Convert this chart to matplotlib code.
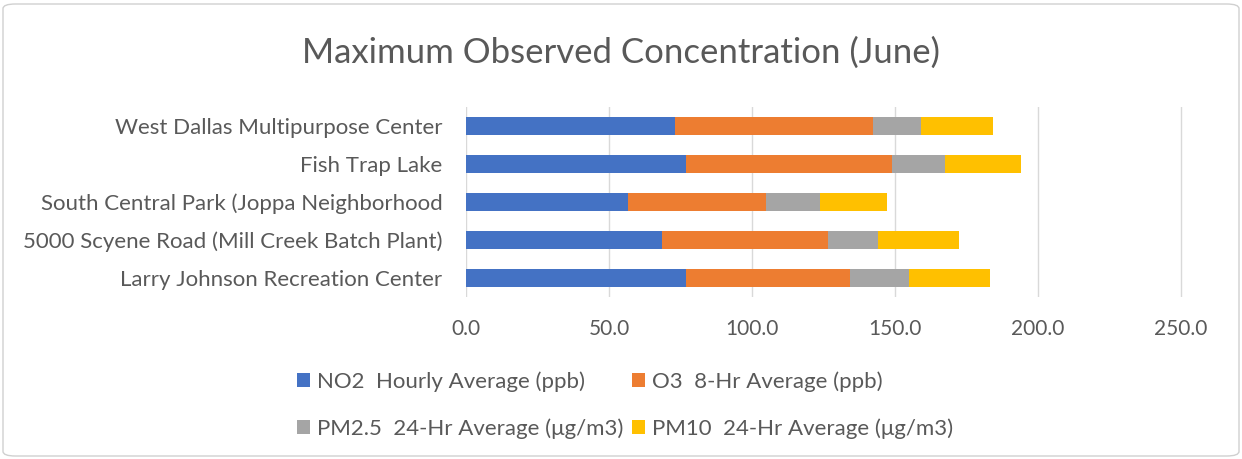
import matplotlib.pyplot as plt
import matplotlib.patches as mpatches
import numpy as np

sites = ['Larry Johnson Recreation Center',
         '5000 Scyene Road (Mill Creek Batch Plant)',
         'South Central Park (Joppa Neighborhood',
         'Fish Trap Lake',
         'West Dallas Multipurpose Center']
no2 = [77.0, 68.5, 56.7, 76.8, 73.1]
o3 = [57.1, 58.0, 48.3, 72.2, 69.3]
pm25 = [20.6, 17.4, 18.7, 18.3, 16.7]
pm10 = [28.4, 28.3, 23.4, 26.7, 25.1]
series = ['NO2  Hourly Average (ppb)', 'O3  8-Hr Average (ppb)',
          'PM2.5  24-Hr Average (\u03bcg/m3)', 'PM10  24-Hr Average (\u03bcg/m3)']
colors = ['#4472C4', '#ED7D31', '#A5A5A5', '#FFC000']
xticks = [0, 50, 100, 150, 200, 250]

plt.rcParams['font.family'] = ['Lato', 'DejaVu Sans']
txt = '#595959'

fig = plt.figure(figsize=(12.42, 4.59), dpi=100)
ax = fig.add_axes([466/1242, 1-297/459, (1184-466)/1242, 190/459])

y = np.arange(len(sites))
left = np.zeros(len(sites))
for vals, name, c in zip([no2, o3, pm25, pm10], series, colors):
    ax.barh(y, vals, left=left, height=0.45, color=c, label=name, zorder=3)
    left += np.array(vals)

ax.set_xlim(0, 251)
ax.set_ylim(-0.5, 4.5)
ax.set_xticks(xticks)
ax.set_xticklabels(['%.1f' % v for v in xticks])
ax.set_yticks(y)
ax.set_yticklabels(sites)
ax.grid(axis='x', color='#D9D9D9', linewidth=1, zorder=0)
for s in ax.spines.values():
    s.set_visible(False)
ax.tick_params(axis='y', length=0, labelsize=16, colors=txt, pad=17)
ax.tick_params(axis='x', length=0, labelsize=15, colors=txt, pad=16)

fig.text(0.5, 1-53/459, 'Maximum Observed Concentration (June)', ha='center', va='center',
         fontsize=25, color=txt)

# legend filled column by column, so reorder to read row by row
handles, labels = ax.get_legend_handles_labels()
order = [0, 2, 1, 3]
leg = fig.legend([handles[i] for i in order], [labels[i] for i in order], ncol=2,
                 loc='center', bbox_to_anchor=(0.503, 1-405/459),
                 frameon=False, fontsize=16, labelcolor=txt, handlelength=0.6,
                 handleheight=0.6, handletextpad=0.3, columnspacing=0.4, labelspacing=1.2)

fig.patches.append(mpatches.FancyBboxPatch((3/1242, 3/459), 1236/1242, 452/459,
                   boxstyle='round,pad=0,rounding_size=0.01', transform=fig.transFigure,
                   fill=False, edgecolor='#D0D0D0', linewidth=1))

fig.savefig('out.png', dpi=100)
